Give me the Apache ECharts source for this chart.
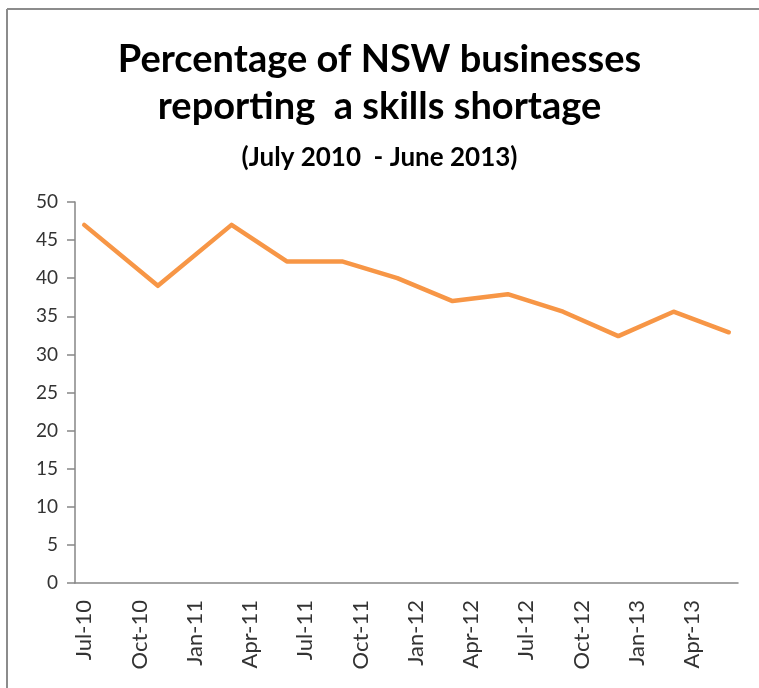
<!DOCTYPE html>
<html>
<head>
<meta charset="utf-8">
<script src="https://cdn.jsdelivr.net/npm/echarts@6/dist/echarts.min.js"></script>
<style>
html,body{margin:0;padding:0;background:#fff;}
#c{width:759px;height:688px;}
</style>
</head>
<body>
<div id="c"></div>
<script>
// Monthly category slots (Excel date axis, base unit = month)
const months = [
  'Jul-10','Aug-10','Sep-10','Oct-10','Nov-10','Dec-10',
  'Jan-11','Feb-11','Mar-11','Apr-11','May-11','Jun-11',
  'Jul-11','Aug-11','Sep-11','Oct-11','Nov-11','Dec-11',
  'Jan-12','Feb-12','Mar-12','Apr-12','May-12','Jun-12',
  'Jul-12','Aug-12','Sep-12','Oct-12','Nov-12','Dec-12',
  'Jan-13','Feb-13','Mar-13','Apr-13','May-13','Jun-13'
];
// Survey observations
const pointMonths = ['Jul-10','Nov-10','Mar-11','Jun-11','Sep-11','Dec-11','Mar-12','Jun-12','Sep-12','Dec-12','Mar-13','Jun-13'];
const pointValues = [47, 39, 47, 42.2, 42.2, 40, 37, 37.9, 35.6, 32.4, 35.6, 32.9];

const titleLines = ['Percentage of NSW businesses', 'reporting  a skills shortage'];
const subtitle = '(July 2010  - June 2013)';

const seriesData = months.map(m => {
  const i = pointMonths.indexOf(m);
  return i >= 0 ? pointValues[i] : null;
});

const FONT = 'Lato';
const chart = echarts.init(document.getElementById('c'));
chart.setOption({
  backgroundColor: '#ffffff',
  animation: false,
  title: [
    { text: titleLines[0], left: 'center', top: 36,
      textStyle: { fontFamily: FONT, fontWeight: 'bold', fontSize: 38, lineHeight: 38, color: '#000' } },
    { text: titleLines[1], left: 'center', top: 83,
      textStyle: { fontFamily: FONT, fontWeight: 'bold', fontSize: 38, lineHeight: 38, color: '#000' } },
    { text: subtitle, left: 'center', top: 140,
      textStyle: { fontFamily: FONT, fontWeight: 'bold', fontSize: 26, lineHeight: 26, color: '#000' } }
  ],
  graphic: [
    { type: 'line', shape: { x1: 7, y1: 9, x2: 759, y2: 9 }, style: { stroke: '#8c8c8c', lineWidth: 2 } },
    { type: 'line', shape: { x1: 7, y1: 9, x2: 7, y2: 688 }, style: { stroke: '#8c8c8c', lineWidth: 2 } }
  ],
  grid: { left: 75, right: 21, top: 202, bottom: 105 },
  xAxis: {
    type: 'category',
    data: months,
    boundaryGap: true,
    axisLine: { lineStyle: { color: '#868686', width: 1.5 } },
    axisTick: { interval: 2, length: 9, lineStyle: { color: '#868686', width: 1.5 } },
    axisLabel: { interval: 2, rotate: 90, margin: 17, fontFamily: FONT, fontSize: 22, color: '#333' },
    splitLine: { show: false }
  },
  yAxis: {
    type: 'value', min: 0, max: 50, interval: 5,
    axisLine: { show: true, lineStyle: { color: '#868686', width: 1.5 } },
    axisTick: { show: true, length: 8, lineStyle: { color: '#868686', width: 1.5 } },
    axisLabel: { margin: 17, fontFamily: FONT, fontSize: 19, color: '#333' },
    splitLine: { show: false }
  },
  series: [{
    type: 'line',
    data: seriesData,
    connectNulls: true,
    showSymbol: false,
    symbol: 'none',
    lineStyle: { color: '#F79646', width: 4.5, cap: 'round', join: 'round' }
  }]
});
</script>
</body>
</html>
